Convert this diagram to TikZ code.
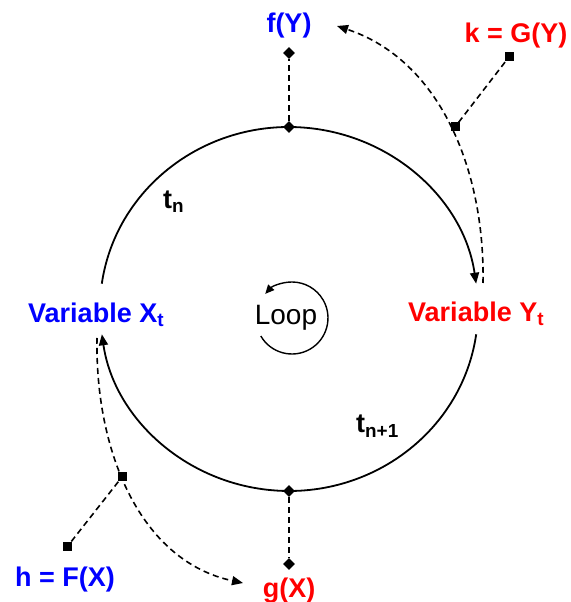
\documentclass[tikz,border=0pt]{standalone}
\usepackage{fontspec}
\setmainfont{Liberation Sans}
\usetikzlibrary{arrows.meta,shapes.geometric}
\begin{document}
\begin{tikzpicture}[x=1pt,y=1pt,
  lbl/.style={font=\fontsize{27}{32}\selectfont\bfseries, inner sep=0pt},
  dia/.style={diamond, fill=black, inner sep=0pt, minimum size=12pt},
  sq/.style={rectangle, fill=black, inner sep=0pt, minimum size=9pt},
  loopline/.style={line width=1.8pt},
  dline/.style={line width=1.6pt, dash pattern=on 6pt off 4pt},
  tip/.style={-{Triangle[length=11pt,width=9pt]}}
]
\useasboundingbox (0,0) rectangle (570,602);
% main loop
\coordinate (ul) at (101.8,318.3);
\coordinate (lr) at (476.2,267.7);
\draw[loopline,tip] (ul) arc[start angle=172,end angle=8,x radius=189,y radius=182];
\draw[loopline,tip] (lr) arc[start angle=-8,end angle=-172,x radius=189,y radius=182];
% top and bottom markers
\node[dia] (dt) at (289,475) {};
\node[dia] (dtu) at (289,549) {};
\draw[dline] (dt) -- (dtu);
\node[lbl, text=blue, anchor=base] (fy) at (289,569) {f(Y)};
\node[dia] (db) at (289,111) {};
\node[dia] (dbd) at (289,38) {};
\draw[dline] (db) -- (dbd);
\node[lbl, text=red, anchor=base] (gx) at (289,5) {g(X)};
% k = G(Y)
\coordinate (ys) at (483,319);
\coordinate (ye) at (337,576);
\draw[dline,tip] (ys) .. controls (485,432) and (440,542) .. (ye);
\node[sq] (sqy) at (455,475) {};
\node[sq] (sqk) at (509,545) {};
\draw[dline] (sqy) -- (sqk);
\node[lbl, text=red, anchor=base] (kg) at (516,559) {k = G(Y)};
% h = F(X)
\coordinate (xs) at (97,264);
\coordinate (xe) at (243,19);
\draw[dline,tip] (xs) .. controls (95,151) and (140,41) .. (xe);
\node[sq] (sqx) at (122,125) {};
\node[sq] (sqh) at (67,55) {};
\draw[dline] (sqx) -- (sqh);
\node[lbl, text=blue, anchor=base] (hf) at (65,16) {h = F(X)};
% variables
\node[lbl, text=blue, anchor=base west] (vx) at (28,279) {Variable X\textsubscript{t}};
\node[lbl, text=red, anchor=base west] (vy) at (408,280) {Variable Y\textsubscript{t}};
% time labels
\node[lbl, anchor=base west] (tn) at (163,393) {t\textsubscript{n}};
\node[lbl, anchor=base west] (tn1) at (356,169) {t\textsubscript{n+1}};
% loop
\node[font=\fontsize{28}{32}\selectfont, inner sep=0pt, anchor=base] (loop) at (286,277) {Loop};
\coordinate (ls) at (260.8,266);
\draw[line width=1.4pt, -{Triangle[length=9pt,width=8pt]}] (ls) arc[start angle=-150,end angle=138,radius=36];
\end{tikzpicture}
\end{document}
